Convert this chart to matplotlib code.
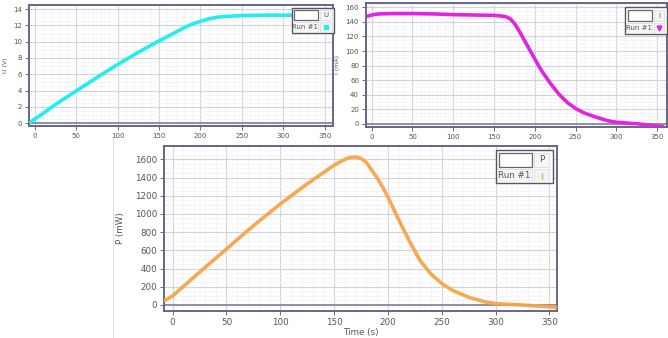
import numpy as np
import matplotlib
matplotlib.use("Agg")
import matplotlib.pyplot as plt
from matplotlib.patches import Rectangle
from matplotlib.ticker import MultipleLocator

# U (V) over time
t_u = [-5, 0, 10, 25, 50, 75, 100, 125, 150, 170, 180, 190, 200, 210, 220,
       230, 240, 250, 275, 300, 330, 357]
u_v = [0.15, 0.5, 1.2, 2.3, 3.95, 5.6, 7.2, 8.7, 10.1, 11.15, 11.7, 12.15,
       12.5, 12.8, 13.0, 13.1, 13.15, 13.2, 13.25, 13.25, 13.25, 13.25]

# I (mA) over time
t_i = [-5, 0, 5, 10, 25, 50, 75, 100, 125, 150, 160, 165, 170, 175, 180, 185,
       190, 195, 200, 205, 210, 220, 230, 240, 250, 260, 275, 290, 300, 325,
       350, 357]
i_ma = [148, 149.5, 150.5, 151, 151.5, 151.5, 151, 150, 149.5, 149, 148, 147,
        144, 138, 129, 119, 109, 99, 89, 79, 70, 54, 40, 29, 21, 15, 9, 4, 2,
        0, -3, -4]

# P (mW) over time
t_p = [-7, 0, 25, 50, 75, 100, 125, 150, 160, 165, 170, 175, 180, 185, 190,
       195, 200, 205, 210, 220, 230, 240, 250, 260, 275, 290, 300, 325, 350, 357]
p_mw = [50, 100, 360, 615, 870, 1110, 1330, 1535, 1600, 1620, 1625, 1610, 1565,
        1480, 1395, 1295, 1185, 1060, 935, 700, 485, 340, 235, 160, 85, 35, 15,
        0, -20, -25]

W, H = 668, 338
FRAME = "#66668a"
TXT = "#555555"


def px_box(x0, y0, x1, y1):
    # figure pixels (top-left origin) -> fig fraction [l, b, w, h]
    return [x0 / W, 1 - y1 / H, (x1 - x0) / W, (y1 - y0) / H]


def style_axes(ax, major_x, major_y, fs):
    ax.xaxis.set_major_locator(MultipleLocator(major_x))
    ax.yaxis.set_major_locator(MultipleLocator(major_y))
    ax.xaxis.set_minor_locator(MultipleLocator(major_x / 5))
    ax.yaxis.set_minor_locator(MultipleLocator(major_y / 4))
    ax.grid(which="major", color="#d2d2da", lw=0.8)
    ax.grid(which="minor", color="#f2f2f5", lw=0.5)
    ax.set_axisbelow(True)
    for s in ax.spines.values():
        s.set_color(FRAME)
        s.set_linewidth(1.4)
    ax.axhline(0, color="#8a8a96", lw=1.3, zorder=1)
    ax.tick_params(which="major", labelsize=fs, colors=TXT, length=3,
                   width=0.6, pad=2)
    ax.tick_params(which="minor", length=0)


def rect(fig, x0, y0, x1, y1, fc="white", ec="#bbbbbb", lw=0.8, z=5):
    l, b, w, h = px_box(x0, y0, x1, y1)
    fig.add_artist(Rectangle((l, b), w, h, transform=fig.transFigure,
                             facecolor=fc, edgecolor=ec, lw=lw, zorder=z))


def key(fig, outer, blank, name_cell, run_cell, mark_cell, name, color,
        marker, fs):
    rect(fig, *outer, fc="white", ec="#555566", lw=1.0, z=5)
    rect(fig, *blank, fc="white", ec="#666666", lw=0.9, z=6)
    rect(fig, *name_cell, fc="#f6f6f6", ec="#dddddd", lw=0.6, z=6)
    rect(fig, *run_cell, fc="#f6f6f6", ec="#dddddd", lw=0.6, z=6)
    rect(fig, *mark_cell, fc="#f3f3f3", ec="#dddddd", lw=0.6, z=6)
    cx = (name_cell[0] + name_cell[2]) / 2 / W
    cy = 1 - (name_cell[1] + name_cell[3]) / 2 / H
    fig.text(cx, cy, name, ha="center", va="center", fontsize=fs, color=TXT,
             zorder=7)
    rx = (run_cell[0] + run_cell[2]) / 2 / W
    ry = 1 - (run_cell[1] + run_cell[3]) / 2 / H
    fig.text(rx, ry, "Run #1", ha="center", va="center", fontsize=fs,
             color=TXT, zorder=7)
    mx = (mark_cell[0] + mark_cell[2]) / 2 / W
    my = 1 - (mark_cell[1] + mark_cell[3]) / 2 / H
    fig.add_artist(plt.Line2D([mx], [my], marker=marker, color=color,
                              markersize=fs * 0.7, transform=fig.transFigure,
                              zorder=8, lw=0))


fig = plt.figure(figsize=(W / 100, H / 100), dpi=100)
fig.patch.set_facecolor("white")

# --- top left: voltage
ax1 = fig.add_axes(px_box(29, 5, 333, 126), zorder=0)
ax1.plot(t_u, u_v, color="#22eef2", lw=2.6, solid_capstyle="round", zorder=3)
ax1.set_xlim(-7, 360)
ax1.set_ylim(-0.35, 14.5)
style_axes(ax1, 50, 2, 5)
ax1.set_ylabel("U (V)", fontsize=4.5, color=TXT, labelpad=4)
ax1.set_xlabel("Time (s)", fontsize=5.5, color=TXT, labelpad=1)

# --- top right: current
ax2 = fig.add_axes(px_box(366, 3, 667, 127), zorder=0)
ax2.plot(t_i, i_ma, color="#e224e2", lw=2.6, solid_capstyle="round", zorder=3)
ax2.set_xlim(-7, 362)
ax2.set_ylim(-4.5, 166)
style_axes(ax2, 50, 20, 5)
ax2.set_ylabel("I (mA)", fontsize=4.5, color=TXT, labelpad=4)
ax2.set_xlabel("Time (s)", fontsize=5.5, color=TXT, labelpad=1)

# white container of the lower chart, hides the cut-off top labels
bg = fig.add_axes(px_box(113, 139, 668, 338), zorder=0.5)
bg.set_xticks([])
bg.set_yticks([])
for side, s in bg.spines.items():
    s.set_visible(side == "left")
    s.set_color("#e2e2e2")

# --- bottom: power
ax3 = fig.add_axes(px_box(164, 146, 557, 311), zorder=1)
ax3.plot(t_p, p_mw, color="#f5a548", lw=2.6, alpha=0.95,
         solid_capstyle="round", zorder=3)
ax3.set_xlim(-8, 357)
ax3.set_ylim(-66, 1746)
style_axes(ax3, 50, 200, 6.3)
ax3.set_ylabel("P (mW)", fontsize=6.3, color=TXT, labelpad=7)
ax3.set_xlabel("Time (s)", fontsize=6.3, color=TXT, labelpad=0.5)

# table-like keys
key(fig, (292, 8, 334, 33), (294, 10, 318, 20), (320, 10, 332, 20),
    (293, 22, 318, 32), (320, 22, 332, 32), "U", "#22eef2", "s", 5)
key(fig, (625, 7, 667, 34), (628, 10, 652, 21), (654, 10, 664, 21),
    (626, 23, 652, 33), (654, 23, 664, 33), "I", "#e224e2", "v", 5)
key(fig, (496, 150, 553, 183), (499, 153, 532, 167), (534, 153, 549, 167),
    (497, 169, 532, 182), (534, 169, 549, 182), "P", "#f5a548",
    "$\\mathrm{I}$", 6.3)

fig.savefig("out.png", dpi=100, facecolor="white")
